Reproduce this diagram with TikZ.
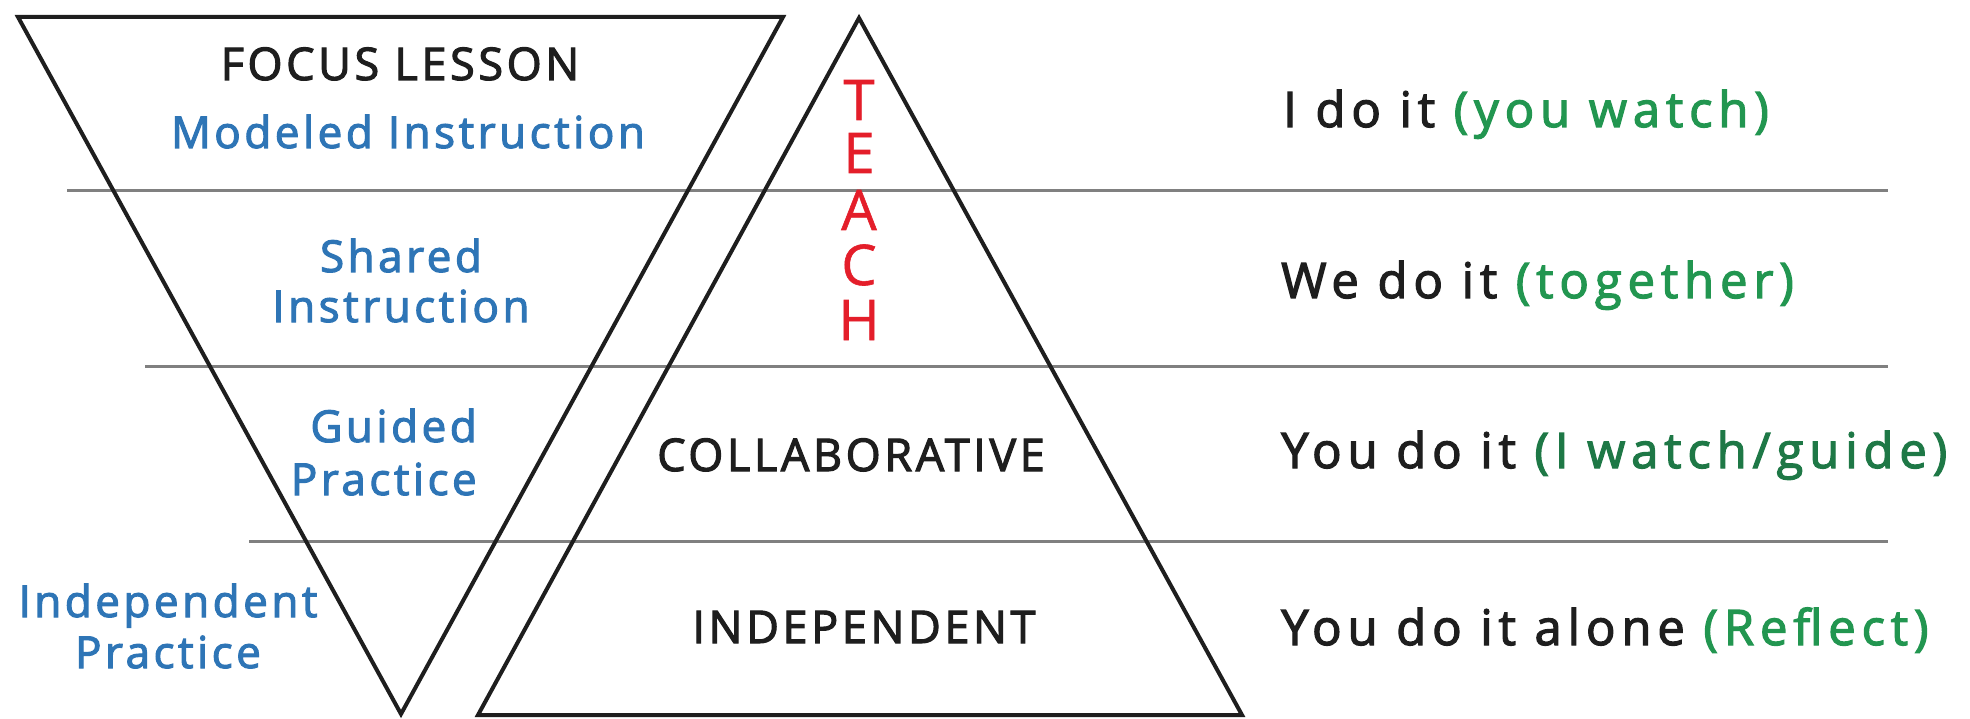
\documentclass[tikz,border=0pt]{standalone}
\usepackage{fontspec}
\setmainfont{Open Sans}
\newfontfamily\lsA{Open Sans}[LetterSpace=8, FakeBold=2.5]
\newfontfamily\lsB{Open Sans}[LetterSpace=12, FakeBold=2.5]
\newfontfamily\lsT{Open Sans}[FakeBold=1]
\definecolor{edge}{RGB}{30,30,30}
\definecolor{rule}{RGB}{128,128,128}
\definecolor{blu}{RGB}{46,117,182}
\definecolor{tred}{RGB}{228,30,42}
\definecolor{grn}{RGB}{34,150,80}
\definecolor{dgrn}{RGB}{30,120,70}
\definecolor{ink}{RGB}{30,30,30}
\tikzset{
  tri/.style={draw=edge, line width=4pt, line join=miter},
  hrule/.style={draw=rule, line width=3pt},
  capsl/.style={inner sep=0, font=\lsA\fontsize{45}{52}\selectfont, text=ink},
  bl/.style={inner sep=0, font=\lsA\fontsize{44}{52}\selectfont, text=blu},
  rt/.style={inner sep=0, font=\lsB\fontsize{49}{56}\selectfont, text=ink, anchor=base west},
  tl/.style={inner sep=0, font=\lsT\fontsize{56}{60}\selectfont, text=tred, anchor=base},
}
\begin{document}
\begin{tikzpicture}[x=1pt,y=-1pt]
\useasboundingbox (0,0) rectangle (1970,719);
\fill[white] (0,0) rectangle (1970,719);
% coordinates
\coordinate (L1a) at (67,191);  \coordinate (L1b) at (1888,191);
\coordinate (L2a) at (145,366); \coordinate (L2b) at (1888,366);
\coordinate (L3a) at (249,541); \coordinate (L3b) at (1888,541);
\draw[hrule] (L1a) -- (L1b);
\draw[hrule] (L2a) -- (L2b);
\draw[hrule] (L3a) -- (L3b);
% inverted triangle
\coordinate (A1) at (18,17); \coordinate (A2) at (783,17); \coordinate (A3) at (401,714);
\draw[tri] (A1) -- (A2) -- (A3) -- cycle;
% pyramid
\coordinate (P1) at (859,18); \coordinate (P2) at (1242,715); \coordinate (P3) at (478,715);
\draw[tri] (P1) -- (P2) -- (P3) -- cycle;
% left labels
\node[capsl, anchor=base] (focus) at (400,80) {FOCUS LESSON};
\node[bl, anchor=base] (model) at (408,148) {Modeled Instruction};
\node[bl, anchor=base] (shared1) at (401,272) {Shared};
\node[bl, anchor=base] (shared2) at (401,322) {Instruction};
\node[bl, anchor=base east] (guided1) at (477,442) {Guided};
\node[bl, anchor=base east] (guided2) at (477,495) {Practice};
\node[bl, anchor=base] (indep1) at (168,617) {Independent};
\node[bl, anchor=base] (indep2) at (168,668) {Practice};
% TEACH
\node[tl] (t1) at (859,120) {T};
\node[tl] (t2) at (859,173) {E};
\node[tl] (t3) at (859,230) {A};
\node[tl] (t4) at (859,285) {C};
\node[tl] (t5) at (859,340) {H};
% pyramid labels
\node[capsl, anchor=base] (collab) at (851,471) {COLLABORATIVE};
\node[capsl, anchor=base] (indepc) at (864,643) {INDEPENDENT};
% right texts
\node[rt] (r1) at (1283,127) {I do it \textcolor{grn}{(you watch)}};
\node[rt] (r2) at (1281,298) {We do it \textcolor{grn}{(together)}};
\node[rt] (r3) at (1281,468) {You do it \textcolor{dgrn}{(I watch/guide)}};
\node[rt] (r4) at (1281,645) {You do it alone \textcolor{grn}{(Reflect)}};
\end{tikzpicture}
\end{document}
